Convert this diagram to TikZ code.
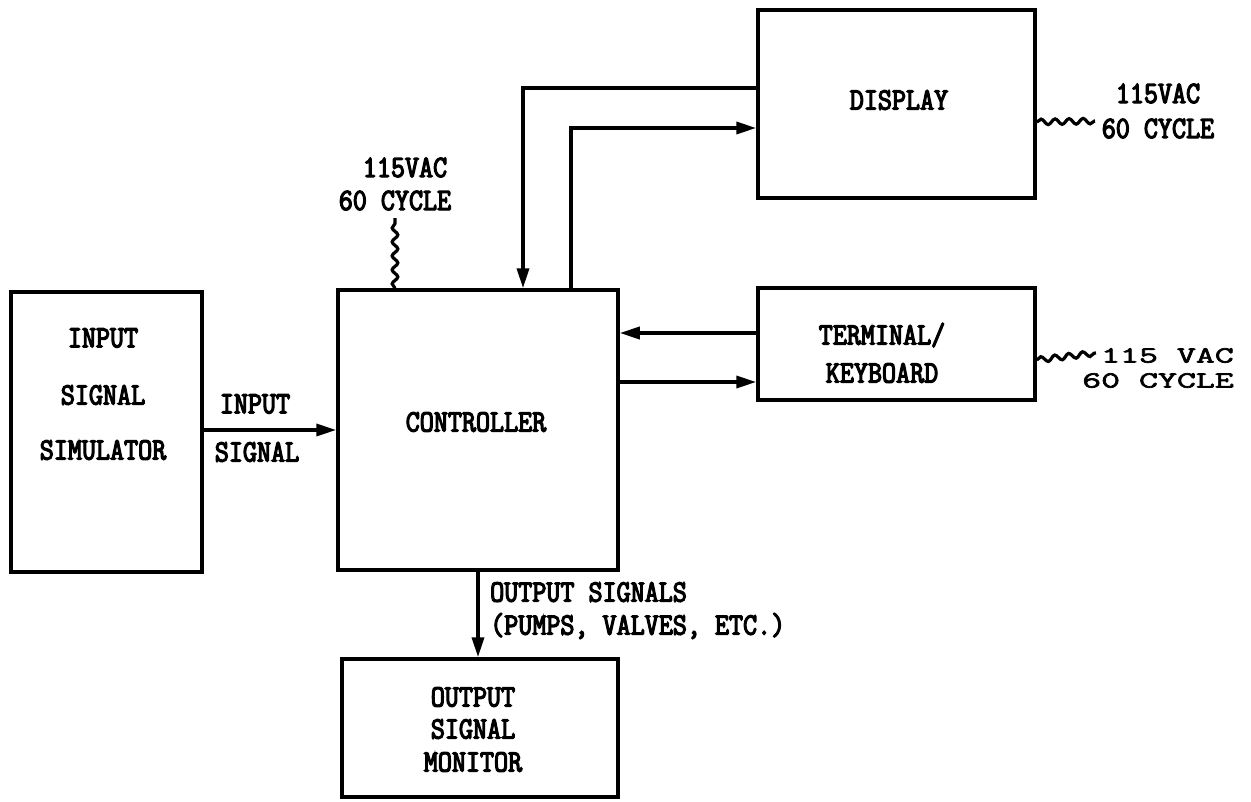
\documentclass[tikz,border=0pt]{standalone}
\usepackage{fontspec}
\usetikzlibrary{arrows.meta,decorations.pathmorphing}
\newfontfamily\twfont[FakeStretch=0.88,FakeBold=4]{Latin Modern Mono}
\newfontfamily\twwide[FakeStretch=1.6,FakeBold=3]{Latin Modern Mono}
\begin{document}
\begin{tikzpicture}[x=1pt,y=-1pt,
  box/.style={draw,line width=3.5pt,rectangle,inner sep=0pt},
  txt/.style={inner sep=0pt,font=\twfont\fontsize{31}{33}\selectfont},
  txtw/.style={inner sep=0pt,font=\twwide\fontsize{23}{25}\selectfont},
  conn/.style={line width=3.5pt},
  arr/.style={conn,-{Triangle[length=20pt,width=12pt]}},
  wave/.style={line width=3.2pt,decorate,decoration={snake,amplitude=2.8pt,segment length=14pt}}]
\useasboundingbox (0,0) rectangle (1251,801);
% boxes
\node[box,minimum width=191pt,minimum height=280pt] (sim) at (106.5,432) {};
\node[box,minimum width=280pt,minimum height=280pt] (ctrl) at (478,430) {};
\node[box,minimum width=277pt,minimum height=188pt] (disp) at (896.5,104) {};
\node[box,minimum width=277pt,minimum height=112pt] (term) at (896.5,344) {};
\node[box,minimum width=276pt,minimum height=138pt] (mon) at (480,728) {};
% box texts
\node[txt] (sim1) at (103,338) {INPUT};
\node[txt] (sim2) at (103,395) {SIGNAL};
\node[txt] (sim3) at (103,450) {SIMULATOR};
\node[txt] (ctrlt) at (476,422) {CONTROLLER};
\node[txt] (dispt) at (899,100) {DISPLAY};
\node[txt] (term1) at (882,335) {TERMINAL/};
\node[txt] (term2) at (882,373) {KEYBOARD};
\node[txt] (mon1) at (473,697) {OUTPUT};
\node[txt] (mon2) at (473,729) {SIGNAL};
\node[txt] (mon3) at (473,762) {MONITOR};
% connector labels
\node[txt,anchor=north west,align=left] (out) at (490,582) {OUTPUT SIGNALS\\(PUMPS, VALVES, ETC.)};
\node[txt,align=center] (cp) at (395,184) {\hspace*{20pt}115VAC\\60 CYCLE};
\node[txt,align=center,font=\twfont\fontsize{31}{35}\selectfont] (dp) at (1158,111) {115VAC\\60 CYCLE};
\node[txtw,align=right,anchor=east] (tp) at (1234,368) {115 VAC\\60 CYCLE};
\node[txt] (in1) at (255,404) {INPUT};
\node[txt] (in2) at (257,452) {SIGNAL};
% connectors
\draw[arr] (sim.east |- 0,430) -- (ctrl.west |- 0,430);
\draw[arr] (disp.west |- 0,88) -| (ctrl.north -| 523,0);
\draw[arr] (ctrl.north -| 571,0) |- (disp.west |- 0,128);
\draw[arr] (term.west |- 0,333) -- (ctrl.east |- 0,333);
\draw[arr] (ctrl.east |- 0,382) -- (term.west |- 0,382);
\draw[arr] (ctrl.south -| 478,0) -- (mon.north -| 478,0);
% power feeds
\coordinate (cw) at (395,218);
\coordinate (dw) at (1095,121);
\coordinate (tw) at (1096,353);
\draw[wave] (ctrl.north -| 395,0) -- (cw);
\draw[wave] (disp.east |- 0,122) -- (dw);
\draw[wave] (term.east |- 0,360) -- (tw);
\end{tikzpicture}
\end{document}
